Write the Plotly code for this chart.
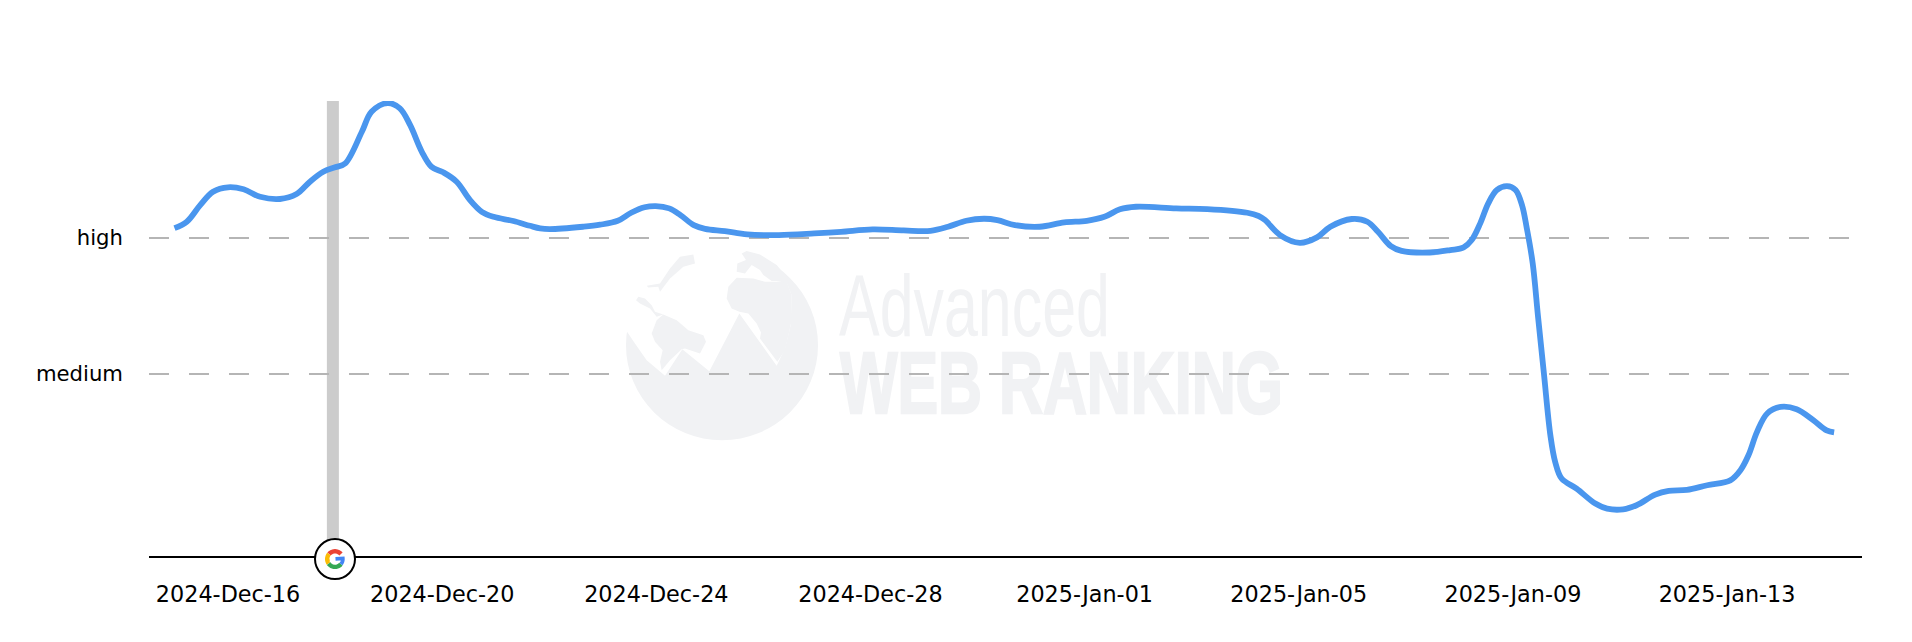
import numpy as np
import pandas as pd
import plotly.graph_objects as go

# Visibility level along the period: days since the first date, and level (1 = medium, 2 = high)
start_date = "2024-12-15"
day_offsets = [0.00, 0.23, 0.48, 0.72, 1.00, 1.29, 1.60, 1.97, 2.28, 2.53, 2.78, 3.00, 3.19,
               3.50, 3.68, 3.98, 4.21, 4.40, 4.62, 4.80, 5.02, 5.27, 5.52, 5.74, 5.96, 6.33, 6.64,
               6.83, 7.01, 7.63, 7.95, 8.28, 8.53, 8.78, 8.99, 9.24, 9.45, 9.70, 9.91, 10.28, 10.70,
               11.29, 11.95, 12.45, 13.04, 13.62, 14.12, 14.45, 14.79, 15.12, 15.37, 15.70, 16.16,
               16.62, 17.04, 17.37, 17.66, 17.96, 18.71, 19.29, 20.04, 20.25, 20.37, 20.65, 21.02,
               21.34, 21.59, 21.99, 22.28, 22.48, 22.72, 22.92, 23.45, 23.83, 24.08, 24.23, 24.39,
               24.54, 24.70, 24.89, 25.05, 25.17, 25.26, 25.37, 25.47, 25.58, 25.70, 25.79,
               25.91, 26.19, 26.54, 26.76, 27.06, 27.31, 27.66, 27.91, 28.25, 28.63, 29.06, 29.25,
               29.40, 29.56, 29.75, 30.00, 30.30, 30.61, 30.86, 31.00]
levels = [2.071, 2.118, 2.240, 2.338, 2.371, 2.356, 2.301, 2.285, 2.321, 2.412, 2.485, 2.518, 2.547,
          2.779, 2.926, 2.990, 2.951, 2.829, 2.632, 2.522, 2.481, 2.412, 2.277, 2.191, 2.154, 2.123, 2.088,
          2.069, 2.064, 2.081, 2.096, 2.125, 2.184, 2.224, 2.233, 2.216, 2.167, 2.093, 2.066, 2.049, 2.025,
          2.020, 2.032, 2.044, 2.062, 2.054, 2.051, 2.081, 2.125, 2.140, 2.130, 2.093, 2.081,
          2.113, 2.125, 2.154, 2.209, 2.228, 2.216, 2.211, 2.184, 2.160, 2.130, 2.020, 1.963,
          2.003, 2.081, 2.138, 2.118, 2.044, 1.939, 1.904, 1.892, 1.910, 1.929, 1.983, 2.106,
          2.253, 2.351, 2.380, 2.351, 2.240, 2.069, 1.812, 1.419, 1.000, 0.549, 0.353,
          0.231, 0.157, 0.047, 0.010, 0.005, 0.035, 0.113, 0.140, 0.147, 0.182, 0.218, 0.292,
          0.402, 0.574, 0.709, 0.757, 0.740, 0.660, 0.585, 0.570]
level_ticks = [1, 2]
level_labels = ["medium", "high"]
update_date = "2024-12-17 23:00"

W, H = 1912, 642
L, R, T, B = 149, 1862, 101, 555.7
FONT = "DejaVu Sans"
WATERMARK = "#f1f2f4"

dates = pd.Timestamp(start_date) + pd.to_timedelta(day_offsets, unit="D")


def px(x):
    return (x - L) / (R - L)


def py(y):
    return (B - y) / (B - T)


def globe_poly(points, fill):
    """Closed polygon given in a 3x grid anchored at the globe's corner."""
    pts = [(px(620 + a / 3), py(245 + b / 3)) for a, b in points]
    path = "M" + " L".join(f"{a:.5f},{b:.5f}" for a, b in pts) + " Z"
    return dict(type="path", xref="paper", yref="paper", path=path, fillcolor=fill,
                line=dict(width=0), layer="below")


def arc(r, a0, a1):
    t = np.radians(np.linspace(a0, a1, 24))
    return "M" + " L".join(f"{r * np.cos(v):.2f},{r * np.sin(v):.2f}" for v in t)


def g_piece(path, color, width=4.4):
    return dict(type="path", xref="paper", yref="paper", xsizemode="pixel", ysizemode="pixel",
                xanchor=px(335), yanchor=py(558.8), path=path,
                line=dict(color=color, width=width), layer="above")


# Watermark globe: grey disc, pale sky cut out above the peaks, landmasses on top
shapes = [
    dict(type="circle", xref="paper", yref="paper", x0=px(626), x1=px(818), y0=py(250), y1=py(440),
         fillcolor=WATERMARK, line=dict(width=0), layer="below"),
    globe_poly([(8, 240), (45, 295), (80, 345), (135, 392), (187, 312), (268, 378), (358, 205),
                (470, 362), (495, 310), (512, 240), (515, 150), (495, 100), (470, 50), (400, -5),
                (300, -5), (150, 10), (30, 120), (5, 200)], "#ffffff"),
    globe_poly([(320, 160), (325, 125), (350, 98), (400, 100), (435, 110), (470, 110), (500, 110),
                (515, 150), (513, 235), (495, 315), (472, 350), (420, 280), (423, 262), (410, 235),
                (385, 205), (358, 200), (335, 190)], WATERMARK),
    globe_poly([(350, 80), (352, 55), (378, 45), (365, 25), (380, 18), (420, 28), (470, 60),
                (500, 95), (505, 115), (470, 108), (455, 108), (430, 90), (420, 75), (395, 60),
                (375, 85)], WATERMARK),
    globe_poly([(80, 122), (120, 115), (150, 70), (180, 35), (220, 28), (225, 55), (190, 65),
                (150, 100), (120, 140), (115, 125), (85, 127)], WATERMARK),
    globe_poly([(48, 165), (55, 155), (75, 160), (95, 180), (105, 200), (130, 208), (110, 215),
                (90, 190), (60, 175)], WATERMARK),
    globe_poly([(95, 265), (110, 225), (130, 208), (170, 225), (205, 255), (250, 270), (258, 290),
                (240, 325), (195, 310), (185, 312), (150, 345), (125, 375), (120, 350), (128, 315),
                (105, 290)], WATERMARK),
    # Watermark wording, sits under the gridlines
    dict(type="rect", xref="paper", yref="paper", x0=px(839), x1=px(1110), y0=py(330), y1=py(265),
         fillcolor="rgba(0,0,0,0)", line=dict(width=0), layer="below",
         label=dict(text="Advanced", textposition="middle center", yanchor="middle",
                    font=dict(family="Liberation Sans", size=88, color=WATERMARK))),
    dict(type="rect", xref="paper", yref="paper", x0=px(840), x1=px(1283), y0=py(405.5), y1=py(343),
         fillcolor="rgba(0,0,0,0)", line=dict(width=0), layer="below",
         label=dict(text="WEB RANKING", textposition="middle center", yanchor="middle",
                    font=dict(family="Liberation Sans", size=88, color=WATERMARK, weight=700))),
    # Algorithm-update marker
    dict(type="line", xref="x", yref="paper", x0=update_date, x1=update_date, y0=0, y1=1,
         line=dict(color="#cccccc", width=12), layer="below"),
    # Marker badge on the date axis
    dict(type="circle", xref="paper", yref="paper", xsizemode="pixel", ysizemode="pixel",
         xanchor=px(335), yanchor=py(558.8), x0=-20, x1=20, y0=-20, y1=20,
         fillcolor="#ffffff", line=dict(color="#000000", width=2), layer="above"),
    g_piece(arc(7.8, 40, 140), "#EA4335"),
    g_piece(arc(7.8, 140, 215), "#FBBC05"),
    g_piece(arc(7.8, 215, 320), "#34A853"),
    g_piece(arc(7.8, 320, 365) + " L0.5,0.3", "#4285F4", 3.8),
]

fig = go.Figure(
    go.Scatter(x=dates, y=levels, mode="lines", hoverinfo="x+y",
               line=dict(color="#4a96ee", width=5.8, shape="spline", smoothing=1.0))
)

fig.update_layout(
    width=W, height=H, autosize=False,
    margin=dict(l=L, r=W - R, t=T, b=H - B),
    paper_bgcolor="#ffffff", plot_bgcolor="rgba(0,0,0,0)",
    showlegend=False, shapes=shapes,
    font=dict(family=FONT, color="#000000"),
)
fig.update_xaxes(
    type="date", range=["2024-12-14 12:34", "2025-01-15 12:30"],
    tick0="2024-12-16", dtick=4 * 86400000, tickformat="%Y-%b-%d",
    showgrid=False, zeroline=False, showline=True, linecolor="#000000", linewidth=2,
    ticks="", ticklabelstandoff=17, tickfont=dict(family=FONT, size=22.3, color="#000000"),
)
fig.update_yaxes(
    range=[-0.338, 3.005], tickvals=level_ticks, ticktext=level_labels,
    showgrid=True, gridcolor="#b5b5b5", gridwidth=2, griddash="20px,20px",
    zeroline=False, showline=False, ticks="", ticklabelstandoff=25,
    tickfont=dict(family=FONT, size=21.2, color="#000000"),
)

# Squeeze the watermark wording to its condensed set widths and thicken the heavy line
squeeze = """
var widths = {'Advanced': 271, 'WEB RANKING': 443};
document.querySelectorAll('.shape-label').forEach(function (t) {
  var w = widths[t.textContent];
  if (w) {
    var b = t.getBBox();
    var cx = b.x + b.width / 2;
    var s = w / b.width;
    var prior = t.getAttribute('transform') || '';
    t.setAttribute('transform', prior + ' translate(' + cx + ' 0) scale(' + s + ' 1) translate(' + (-cx) + ' 0)');
    if (t.textContent === 'WEB RANKING') {
      t.style.stroke = '#f1f2f4';
      t.style.strokeWidth = '2.5px';
    }
  }
});
"""
fig.write_html("out.html", post_script=squeeze, config={"displayModeBar": False})
